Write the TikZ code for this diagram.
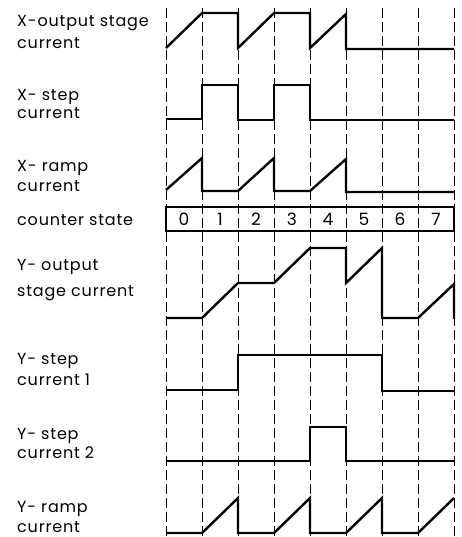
\documentclass[tikz,border=0pt]{standalone}
\usepackage{fontspec}
\setmainfont{Poppins}[LetterSpace=5]
\usepackage{tikz}
\usetikzlibrary{positioning}

\begin{document}
\begin{tikzpicture}[x=1pt,y=-1pt,
  lbl/.style={anchor=base west,align=left,inner sep=0pt,font=\fontsize{16}{20}\selectfont},
  num/.style={inner sep=0pt,font=\fontsize{17}{17}\selectfont},
  w/.style={line width=2.4pt,line join=miter,line cap=butt},
  g/.style={line width=1pt,dash pattern=on 10pt off 4pt}
]
  \useasboundingbox (0,0) rectangle (462,537);
  % row labels (anchored at the last line)
  \node[lbl] (xout) at (17,49) {X-output stage\\[2pt]current};
  \node[lbl] (xstep) at (17,119) {X- step\\[-2pt]current};
  \node[lbl] (xramp) at (17,192) {X- ramp\\current};
  \node[lbl] (cnt) at (17,225) {counter state};
  \node[lbl] (yout) at (17,296) {Y- output\\[6pt]stage current};
  \node[lbl] (ystepa) at (17,385) {Y- step\\[1pt]current 1};
  \node[lbl] (ystepb) at (17,458) {Y- step\\[-1pt]current 2};
  \node[lbl] (yramp) at (17,532) {Y- ramp\\[0pt]current};
  \begin{scope}[xshift=166pt,x=36pt]
    % time grid
    \foreach \i in {0,...,8}
      \draw[g] (\i,8) -- (\i,537);
    % counter states
    \draw[line width=1.1pt] (0,207) rectangle (8,231);
    \foreach \i in {0,...,7}
      \node[num] (s\i) at (\i+0.5,219.5) {\i};
    % X waveforms
    \draw[w] (0,48)--(1,13)--(2,13)--(2,48)--(3,13)--(4,13)--(4,48)--(5,14)--(5,49)--(8,49);
    \draw[w] (0,119)--(1,119)--(1,85)--(2,85)--(2,120)--(3,120)--(3,85)--(4,85)--(4,120)--(8,120);
    \draw[w] (0,190)--(1,158)--(1,191)--(2,191)--(3,158)--(3,191)--(4,191)--(5,159)--(5,192)--(8,192);
    % Y waveforms
    \draw[w] (0,318)--(1,318)--(2,283)--(3,283)--(4,248)--(5,248)--(5,283)--(6,248)--(6,318)--(7,318)--(8,284)--(8,319);
    \draw[w] (0,390)--(2,390)--(2,355)--(6,355)--(6,391)--(8,391);
    \draw[w] (0,461)--(4,461)--(4,427)--(5,427)--(5,461)--(8,461);
    \draw[w] (0,533)--(1,533)--(2,498)--(2,533)--(3,533)--(4,498)--(4,533)--(5,533)--(6,498)--(6,533)--(7,533)--(8,498);
  \end{scope}
\end{tikzpicture}
\end{document}
